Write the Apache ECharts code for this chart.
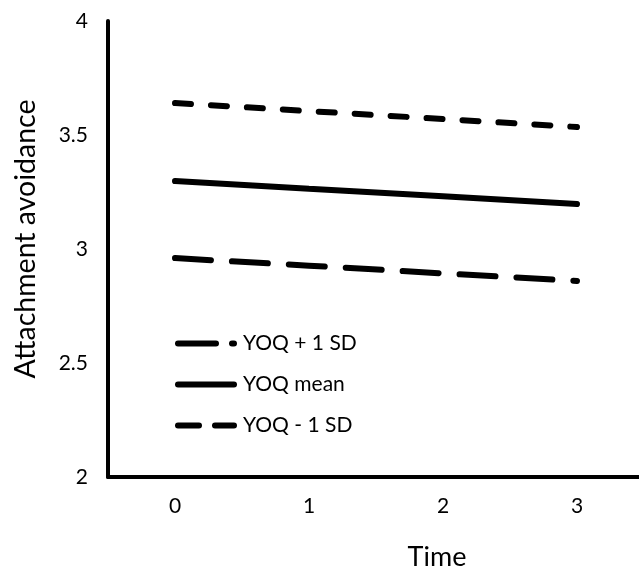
<!DOCTYPE html>
<html>
<head>
<meta charset="utf-8">
<script src="https://cdn.jsdelivr.net/npm/echarts@6/dist/echarts.min.js"></script>
<style>html,body{margin:0;padding:0;background:#fff}#c{width:639px;height:575px}</style>
</head>
<body>
<div id="c"></div>
<script>
const categories = ['0', '1', '2', '3'];
const yoqPlus = [2.96, 2.927, 2.893, 2.86];
const yoqMean = [3.298, 3.264, 3.231, 3.197];
const yoqMinus = [3.64, 3.605, 3.57, 3.535];
const seriesNames = ['YOQ + 1 SD', 'YOQ mean', 'YOQ - 1 SD'];
const yTicks = [2, 2.5, 3, 3.5, 4];

const font = 'Lato, "Open Sans", sans-serif';
const chart = echarts.init(document.getElementById('c'));
function lineSeries(name, data, type) {
  return {
    name: name, type: 'line', data: data, symbol: 'none', silent: true,
    lineStyle: { color: '#000', width: 6, type: type, cap: 'round' }
  };
}
chart.setOption({
  animation: false,
  grid: { left: 108, width: 536, top: 21, height: 456, outerBoundsMode: 'none', containLabel: false },
  legend: {
    orient: 'vertical', left: 170, top: 327, itemGap: 18,
    itemWidth: 56, itemHeight: 23,
    data: [
      { name: seriesNames[0], lineStyle: { type: [38, 16], width: 6, cap: 'round' } },
      { name: seriesNames[1], lineStyle: { type: 'solid', width: 6, cap: 'round' } },
      { name: seriesNames[2], lineStyle: { type: [21, 16], width: 6, cap: 'round' } }
    ],
    textStyle: { fontFamily: font, fontSize: 21, color: '#000', padding: [0, 0, 0, 4], lineHeight: 23 },
    itemStyle: { opacity: 0 }
  },
  xAxis: {
    type: 'category', data: categories, boundaryGap: true,
    name: 'Time', nameLocation: 'middle', nameGap: 67,
    nameTextStyle: { fontFamily: font, fontSize: 27, color: '#000', padding: [0, 0, 0, 122] },
    axisLine: { lineStyle: { color: '#000', width: 4 } },
    axisTick: { show: false },
    axisLabel: { fontFamily: font, fontSize: 21, color: '#000', margin: 19 },
    splitLine: { show: false }
  },
  yAxis: {
    type: 'value', min: yTicks[0], max: yTicks[yTicks.length - 1], interval: 0.5,
    name: 'Attachment avoidance', nameLocation: 'middle', nameGap: 68,
    nameTextStyle: { fontFamily: font, fontSize: 28.5, color: '#000', padding: [0, 0, 0, 20] },
    axisLine: { show: true, lineStyle: { color: '#000', width: 4 } },
    axisTick: { show: false },
    axisLabel: { fontFamily: font, fontSize: 21, color: '#000', margin: 20, padding: [0, 0, 9, 0] },
    splitLine: { show: false }
  },
  series: [
    lineSeries(seriesNames[0], yoqPlus, [36, 21]),
    lineSeries(seriesNames[1], yoqMean, 'solid'),
    lineSeries(seriesNames[2], yoqMinus, [16, 20])
  ]
});
</script>
</body>
</html>
